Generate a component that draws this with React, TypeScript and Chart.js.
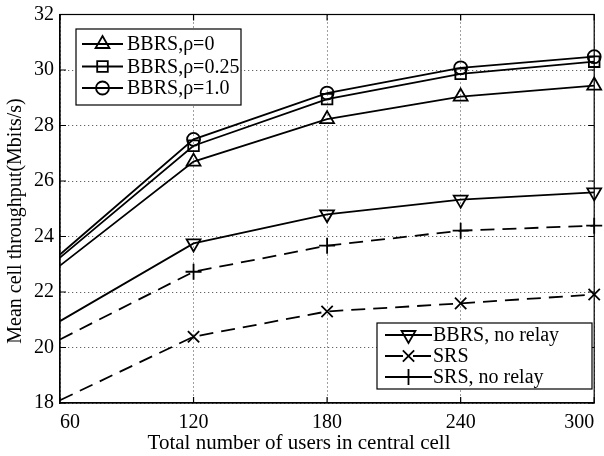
import { useEffect, useRef } from 'react';
import { Chart, registerables } from 'chart.js';

Chart.register(...registerables);

const users = [60, 120, 180, 240, 300];
const bbrsRho0 = [22.95, 26.7, 28.23, 29.04, 29.44];
const bbrsRho025 = [23.24, 27.27, 28.95, 29.86, 30.3];
const bbrsRho1 = [23.35, 27.5, 29.17, 30.08, 30.48];
const bbrsNoRelay = [20.95, 23.75, 24.8, 25.33, 25.59];
const srs = [18.1, 20.39, 21.3, 21.59, 21.91];
const srsNoRelay = [20.29, 22.73, 23.67, 24.21, 24.39];

const legendTop = ['BBRS,ρ=0', 'BBRS,ρ=0.25', 'BBRS,ρ=1.0'];
const legendBottom = ['BBRS, no relay', 'SRS', 'SRS, no relay'];
const xTitle = 'Total number of users in central cell';
const yTitle = 'Mean cell throughput(Mbits/s)';

const FONT = '"Liberation Serif", "Times New Roman", serif';
const DASH = [14, 8];

type Marker = { style: string; r: number; rot: number };

const markers: Marker[] = [
  { style: 'triangle', r: 8, rot: 0 },
  { style: 'rect', r: 7.5, rot: 0 },
  { style: 'circle', r: 6.5, rot: 0 },
  { style: 'triangle', r: 8, rot: 180 },
  { style: 'crossRot', r: 8, rot: 0 },
  { style: 'cross', r: 8, rot: 0 },
];

function drawMarker(ctx: CanvasRenderingContext2D, m: Marker, x: number, y: number) {
  ctx.save();
  ctx.setLineDash([]);
  ctx.lineWidth = 1.8;
  ctx.strokeStyle = '#000';
  ctx.beginPath();
  const r = m.r;
  if (m.style === 'triangle') {
    let a = m.rot * Math.PI / 180;
    for (let i = 0; i < 3; i++) {
      const px = x + Math.sin(a) * r;
      const py = y - Math.cos(a) * r;
      if (i === 0) ctx.moveTo(px, py); else ctx.lineTo(px, py);
      a += (2 * Math.PI) / 3;
    }
    ctx.closePath();
  } else if (m.style === 'rect') {
    const s = Math.SQRT1_2 * r;
    ctx.rect(x - s, y - s, 2 * s, 2 * s);
  } else if (m.style === 'circle') {
    ctx.arc(x, y, r, 0, Math.PI * 2);
  } else if (m.style === 'crossRot') {
    const s = Math.SQRT1_2 * r;
    ctx.moveTo(x - s, y - s); ctx.lineTo(x + s, y + s);
    ctx.moveTo(x - s, y + s); ctx.lineTo(x + s, y - s);
  } else if (m.style === 'cross') {
    ctx.moveTo(x - r, y); ctx.lineTo(x + r, y);
    ctx.moveTo(x, y - r); ctx.lineTo(x, y + r);
  }
  ctx.stroke();
  ctx.restore();
}

const frameAndLegends = {
  id: 'frameAndLegends',
  afterDraw(chart: any) {
    const ctx: CanvasRenderingContext2D = chart.ctx;
    const { left, right, top, bottom } = chart.chartArea;
    const xs = chart.scales.x;
    const ys = chart.scales.y;
    ctx.save();
    ctx.strokeStyle = '#000';
    ctx.lineWidth = 1.2;
    ctx.setLineDash([]);
    ctx.strokeRect(left, top, right - left, bottom - top);
    ctx.beginPath();
    const tl = 6;
    for (const v of users) {
      const px = xs.getPixelForValue(v);
      ctx.moveTo(px, bottom); ctx.lineTo(px, bottom - tl);
      ctx.moveTo(px, top); ctx.lineTo(px, top + tl);
    }
    for (let v = 18; v <= 32; v += 2) {
      const py = ys.getPixelForValue(v);
      ctx.moveTo(left, py); ctx.lineTo(left + tl, py);
      ctx.moveTo(right, py); ctx.lineTo(right - tl, py);
    }
    ctx.stroke();

    ctx.fillStyle = '#000';
    ctx.textAlign = 'center';
    ctx.textBaseline = 'middle';
    ctx.font = `21px ${FONT}`;
    ctx.fillText(xTitle, 299, 443);
    ctx.save();
    ctx.translate(16, 221);
    ctx.rotate(-Math.PI / 2);
    ctx.font = `20px ${FONT}`;
    ctx.fillText(yTitle, 0, 0);
    ctx.restore();

    const drawLegend = (
      box: [number, number, number, number],
      rowsY: number[],
      labels: string[],
      mk: Marker[],
      dashes: number[][],
      lineX: [number, number],
      textX: number,
    ) => {
      ctx.fillStyle = '#fff';
      ctx.fillRect(box[0], box[1], box[2] - box[0], box[3] - box[1]);
      ctx.strokeStyle = '#000';
      ctx.lineWidth = 1.2;
      ctx.setLineDash([]);
      ctx.strokeRect(box[0], box[1], box[2] - box[0], box[3] - box[1]);
      ctx.font = `20px ${FONT}`;
      ctx.textBaseline = 'middle';
      ctx.textAlign = 'left';
      ctx.fillStyle = '#000';
      labels.forEach((lab, i) => {
        const y = rowsY[i];
        ctx.save();
        ctx.lineWidth = 1.8;
        ctx.setLineDash(dashes[i]);
        ctx.beginPath();
        ctx.moveTo(lineX[0], y);
        ctx.lineTo(lineX[1], y);
        ctx.stroke();
        ctx.restore();
        drawMarker(ctx, mk[i], (lineX[0] + lineX[1]) / 2, y);
        ctx.fillText(lab, textX, y + 1);
      });
    };

    drawLegend([76, 29, 241, 105], [44, 66.5, 88], legendTop, markers.slice(0, 3), [[], [], []], [82, 123], 127);
    drawLegend([377, 323, 592, 389], [335, 356, 377], legendBottom, markers.slice(3, 6), [[], [18, 10], []], [385, 432], 433);
    ctx.restore();
  },
};

function series(label: string, values: number[], m: Marker, dashed: boolean) {
  return {
    label,
    data: users.map((u, i) => ({ x: u, y: values[i] })),
    borderColor: '#000',
    borderWidth: 1.8,
    borderDash: dashed ? DASH : [],
    backgroundColor: 'transparent',
    pointStyle: m.style,
    pointRotation: m.rot,
    pointRadius: users.map((_, i) => (i === 0 ? 0 : m.r)),
    pointBorderColor: '#000',
    pointBorderWidth: 1.8,
    pointBackgroundColor: 'transparent',
    tension: 0,
    fill: false,
    clip: 12,
  };
}

export default function App() {
  const ref = useRef<HTMLCanvasElement>(null);
  useEffect(() => {
    if (!ref.current) return;
    const chart = new Chart(ref.current, {
      type: 'line',
      data: {
        datasets: [
          series(legendTop[0], bbrsRho0, markers[0], false),
          series(legendTop[1], bbrsRho025, markers[1], false),
          series(legendTop[2], bbrsRho1, markers[2], false),
          series(legendBottom[0], bbrsNoRelay, markers[3], false),
          series(legendBottom[1], srs, markers[4], true),
          series(legendBottom[2], srsNoRelay, markers[5], true),
        ] as any,
      },
      options: {
        animation: false,
        responsive: true,
        maintainAspectRatio: false,
        layout: { padding: { top: 14.5, right: 9, bottom: 0, left: 0 } },
        plugins: { legend: { display: false }, tooltip: { enabled: false } },
        scales: {
          x: {
            type: 'linear',
            min: 60,
            max: 300,
            afterBuildTicks: (s: any) => { s.ticks = users.map((v) => ({ value: v })); },
            afterFit: (s: any) => { s.height = 53; s.paddingLeft = 0; s.paddingRight = 0; },
            ticks: { color: '#000', font: { family: FONT, size: 20 }, padding: 8, maxRotation: 0, align: 'inner' } as any,
            grid: { color: 'rgba(0,0,0,0.75)', lineWidth: 1, drawTicks: false } as any,
            border: { display: true, color: '#000', width: 1.2, dash: [1, 3] } as any,
            title: { display: false },
          },
          y: {
            min: 18,
            max: 32,
            ticks: { stepSize: 2, color: '#000', font: { family: FONT, size: 20 }, padding: 6 },
            afterFit: (s: any) => { s.width = 60; s.paddingTop = 0; s.paddingBottom = 0; },
            grid: { color: 'rgba(0,0,0,0.75)', lineWidth: 1, drawTicks: false } as any,
            border: { display: true, color: '#000', width: 1.2, dash: [1, 3] } as any,
            title: { display: false },
          },
        },
      },
      plugins: [frameAndLegends],
    });
    return () => chart.destroy();
  }, []);
  return (
    <div style={{ position: 'absolute', left: 0, top: 0, width: 604, height: 456, background: '#fff' }}>
      <canvas ref={ref} />
    </div>
  );
}
